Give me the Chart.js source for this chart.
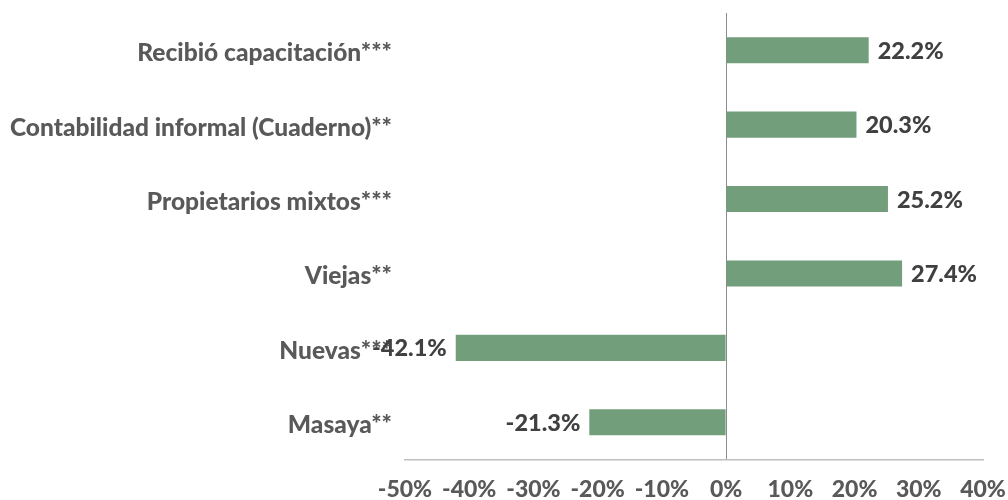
<!DOCTYPE html>
<html>
<head>
<meta charset="utf-8">
<script src="https://cdn.jsdelivr.net/npm/chart.js@4.4.1/dist/chart.umd.min.js"></script>
<style>
  html, body { margin: 0; padding: 0; background: #fff; }
  #wrap { width: 1008px; height: 500px; }
</style>
</head>
<body>
<div id="wrap"><canvas id="myChart" width="1008" height="500"></canvas></div>
<script>
// categories, top to bottom
const categories = [
    'Recibió capacitación***',
    'Contabilidad informal (Cuaderno)**',
    'Propietarios mixtos***',
    'Viejas**',
    'Nuevas***',
    'Masaya**'
];
// percent values
const values = [22.2, 20.3, 25.2, 27.4, -42.1, -21.3];
const xTicks = [-50, -40, -30, -20, -10, 0, 10, 20, 30, 40];

const barColor = '#739e7c';
const fontName = 'Lato';

// draws the value next to the end of each bar
const valueLabels = {
    id: 'valueLabels',
    afterDatasetsDraw(chart) {
        const ctx = chart.ctx;
        const meta = chart.getDatasetMeta(0);
        ctx.save();
        ctx.font = '900 23.5px ' + fontName;
        ctx.fillStyle = '#404040';
        ctx.textBaseline = 'middle';
        meta.data.forEach((bar, i) => {
            const v = values[i];
            const txt = v.toFixed(1) + '%';
            if (v >= 0) {
                ctx.textAlign = 'left';
                ctx.fillText(txt, bar.x + 9, bar.y + 1);
            } else {
                ctx.textAlign = 'right';
                ctx.fillText(txt, bar.x - 9, bar.y + 1);
            }
        });
        ctx.restore();
    }
};

const ctx = document.getElementById('myChart');

const data = {
    labels: categories,
    datasets: [
        {
            data: values,
            backgroundColor: barColor,
            categoryPercentage: 1,
            barPercentage: 0.35
        }
    ]
};

const config = {
    type: 'bar',
    data: data,
    options: {
        indexAxis: 'y',
        responsive: false,
        animation: false,
        layout: {
            padding: { top: 13, right: 25, left: 0, bottom: 0 }
        },
        plugins: {
            legend: { display: false },
            tooltip: { enabled: false }
        },
        scales: {
            x: {
                min: -50,
                max: 40,
                afterBuildTicks: (scale) => {
                    scale.ticks = xTicks.map(v => ({ value: v }));
                },
                afterFit: (scale) => {
                    scale.height = 40.5;
                    scale.paddingLeft = 0;
                    scale.paddingRight = 0;
                },
                grid: {
                    drawTicks: false,
                    color: (c) => c.tick && c.tick.value === 0 ? '#8c8c8c' : 'rgba(0,0,0,0)',
                    lineWidth: 1
                },
                border: { display: true, color: '#bfbfbf', width: 1.5 },
                ticks: {
                    padding: 16,
                    color: '#595959',
                    font: { family: fontName, size: 23, weight: '900' },
                    callback: (v) => v + '%'
                }
            },
            y: {
                afterFit: (scale) => {
                    scale.width = 405;
                    scale.paddingTop = 0;
                    scale.paddingBottom = 0;
                },
                grid: { display: false, drawTicks: false },
                border: { display: false },
                ticks: {
                    padding: 13,
                    labelOffset: 3,
                    color: '#595959',
                    font: { family: fontName, size: 24.5, weight: '900' }
                }
            }
        }
    },
    plugins: [valueLabels]
};

var chart = new Chart(ctx, config);
</script>
</body>
</html>
